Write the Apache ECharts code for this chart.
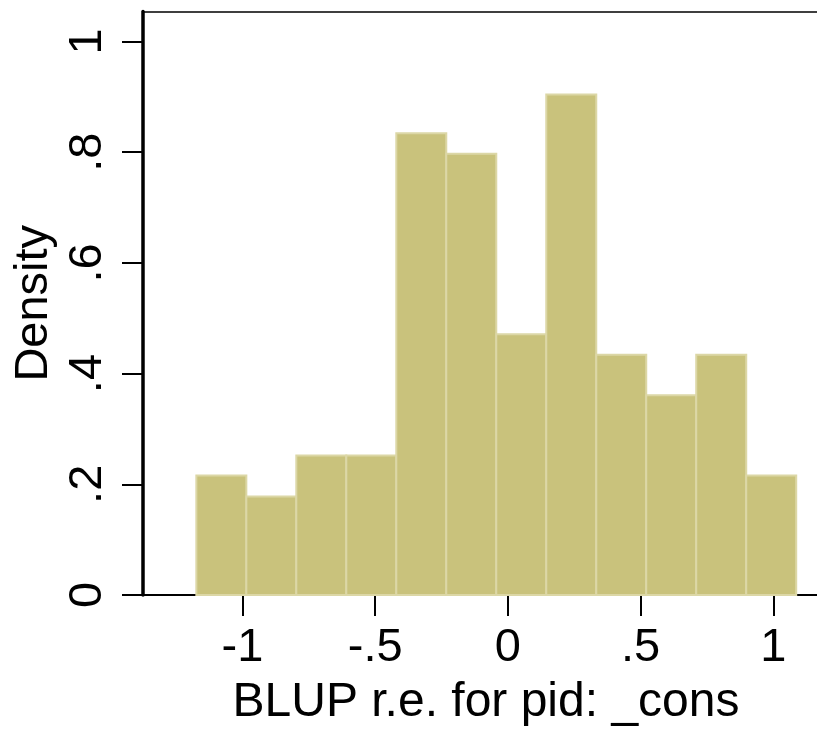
<!DOCTYPE html>
<html>
<head>
<meta charset="utf-8">
<script src="https://cdn.jsdelivr.net/npm/echarts@6/dist/echarts.min.js"></script>
<style>
  html, body { margin: 0; padding: 0; background: #fff; }
  #chart { width: 817px; height: 731px; }
</style>
</head>
<body>
<div id="chart"></div>
<script>
// Histogram bin edges (BLUP random effect) and density per bin
const binEdges = [-1.174, -0.9856, -0.7973, -0.6089, -0.4205, -0.2322, -0.0438,
                  0.1446, 0.3330, 0.5213, 0.7097, 0.8981, 1.0864];
const densities = [0.216, 0.178, 0.252, 0.252, 0.834, 0.797, 0.471, 0.904,
                   0.434, 0.361, 0.434, 0.216];
const xTicks = [-1, -0.5, 0, 0.5, 1];
const yTicks = [0, 0.2, 0.4, 0.6, 0.8, 1];
const xTitle = 'BLUP r.e. for pid: _cons';
const yTitle = 'Density';

const fmt = v => {
  if (v === 0) return '0';
  let s = String(+v.toFixed(2));
  return s.replace(/^(-?)0\./, '$1.');
};

const bars = densities.map((d, i) => [binEdges[i], binEdges[i + 1], d]);

const FONT = 'Liberation Sans, Arial, Helvetica, sans-serif';
const X_MIN = -1.375, X_MAX = 1.21;
const chart = echarts.init(document.getElementById('chart'));
chart.setOption({
  backgroundColor: '#ffffff',
  animation: false,
  grid: {
    left: 143, right: -12, top: 11.5, bottom: 136,
    outerBoundsMode: 'none', containLabel: false, show: false
  },
  xAxis: [{
    type: 'value', min: X_MIN, max: X_MAX,
    name: xTitle, nameLocation: 'middle', nameGap: 84,
    nameTextStyle: { fontFamily: FONT, fontSize: 48, color: '#000' },
    axisLine: { show: true, onZero: false, lineStyle: { color: '#000', width: 2 } },
    axisTick: { show: true, customValues: xTicks, length: 21, lineStyle: { color: '#000', width: 2 } },
    axisLabel: { customValues: xTicks, formatter: fmt, margin: 30,
      fontFamily: FONT, fontSize: 47, color: '#000' },
    splitLine: { show: false }
  }, {
    // top frame line of the plot region
    type: 'value', position: 'top', min: X_MIN, max: X_MAX,
    axisLine: { show: true, onZero: false, lineStyle: { color: '#000', width: 1.5 } },
    axisTick: { show: false }, axisLabel: { show: false }, splitLine: { show: false }
  }],
  yAxis: {
    type: 'value', min: 0, max: 1.054,
    name: yTitle, nameLocation: 'middle', nameGap: 85,
    nameTextStyle: { fontFamily: FONT, fontSize: 47, color: '#000' },
    axisLine: { show: true, onZero: false, lineStyle: { color: '#000', width: 3.5 } },
    axisTick: { show: true, customValues: yTicks, length: 21, lineStyle: { color: '#000', width: 2 } },
    axisLabel: { customValues: yTicks, formatter: fmt, rotate: 90, margin: 31,
      fontFamily: FONT, fontSize: 47, color: '#000' },
    splitLine: { show: false }
  },
  series: [{
    type: 'custom',
    data: bars,
    renderItem: function (params, api) {
      const p0 = api.coord([api.value(0), api.value(2)]);
      const p1 = api.coord([api.value(1), 0]);
      return {
        type: 'rect',
        shape: { x: p0[0], y: p0[1], width: p1[0] - p0[0], height: p1[1] - p0[1] },
        style: { fill: '#c9c27c', stroke: '#dcd7a6', lineWidth: 2 }
      };
    }
  }]
});
</script>
</body>
</html>
